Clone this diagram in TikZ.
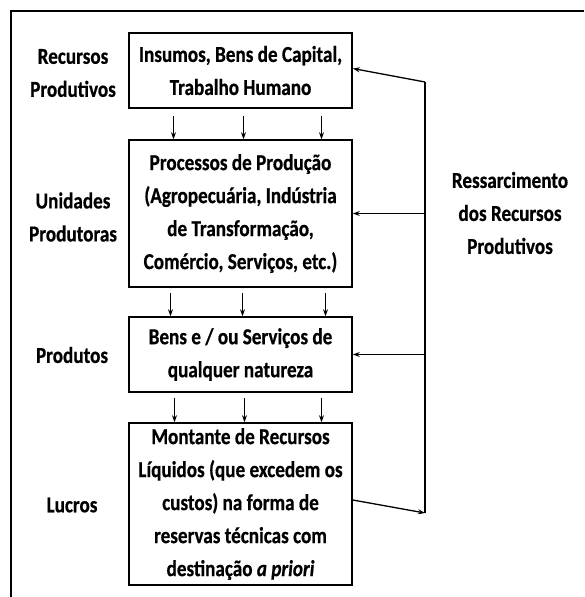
\documentclass[tikz,border=0pt]{standalone}
\usepackage{fontspec}
\setmainfont{Carlito}[FakeStretch=0.84, BoldFeatures={FakeBold=0.6}, BoldItalicFeatures={FakeBold=0.6}]
\usetikzlibrary{arrows.meta,positioning}

\begin{document}
\begin{tikzpicture}[x=1pt,y=-1pt,
  caixa/.style={draw=black, line width=1.6pt, minimum width=223pt, inner sep=0pt, align=center, font=\bfseries\fontsize{22.8}{33}\selectfont},
  rotulo/.style={align=center, font=\bfseries\fontsize{22.8}{33}\selectfont},
  seta/.style={-{Stealth[length=7pt,width=5pt]}, line width=0.7pt},
  retorno/.style={-{Stealth[length=7pt,width=5pt]}, line width=1.3pt}
]
\useasboundingbox (0,0) rectangle (584,597);

% Moldura
\draw[line width=1.6pt] (11,597) -- (11,11) -- (584,11);

% Caixas
\node[caixa, minimum height=75pt] (insumos) at (240.5,70.5) {Insumos, Bens de Capital,\\Trabalho Humano};
\node[caixa, minimum height=147pt] (processos) at (240.5,213.5) {Processos de Produção\\(Agropecuária, Indústria\\de Transformação,\\Comércio, Serviços, etc.)};
\node[caixa, minimum height=75pt] (bens) at (240.5,354.5) {Bens e / ou Serviços de\\qualquer natureza};
\node[caixa, minimum height=162pt] (montante) at (240.5,504) {Montante de Recursos\\Líquidos (que excedem os\\custos) na forma de\\reservas técnicas com\\destinação \textit{a priori}};

% Rotulos
\node[rotulo] (lrecursos) at (73,73) {Recursos\\Produtivos};
\node[rotulo] (lunidades) at (73,217) {Unidades\\Produtoras};
\node[rotulo] (lprodutos) at (72,355) {Produtos};
\node[rotulo] (llucros) at (72,505) {Lucros};
\node[rotulo] (lressarc) at (510,213) {Ressarcimento\\dos Recursos\\Produtivos};

% Setas verticais
\foreach \dx in {-67,3,81}
  \draw[seta] ([xshift=\dx pt, yshift=-7pt]insumos.south) -- ([xshift=\dx pt]processos.north);
\foreach \dx in {-70,2,85}
  \draw[seta] ([xshift=\dx pt, yshift=-5pt]processos.south) -- ([xshift=\dx pt]bens.north);
\foreach \dx in {-66,4,81}
  \draw[seta] ([xshift=\dx pt, yshift=-5pt]bens.south) -- ([xshift=\dx pt]montante.north);

% Retorno
\coordinate (r1) at (425,82);
\coordinate (r4) at (425,513);
\draw[line width=1.3pt] (r1) -- (r4);
\draw[retorno] (r1) -- ([yshift=2pt]insumos.east);
\draw[retorno] (processos.east -| r1) -- (processos.east);
\draw[retorno] (bens.east -| r1) -- (bens.east);
\draw[retorno] ([yshift=4pt]montante.east) -- (r4);

\end{tikzpicture}
\end{document}
